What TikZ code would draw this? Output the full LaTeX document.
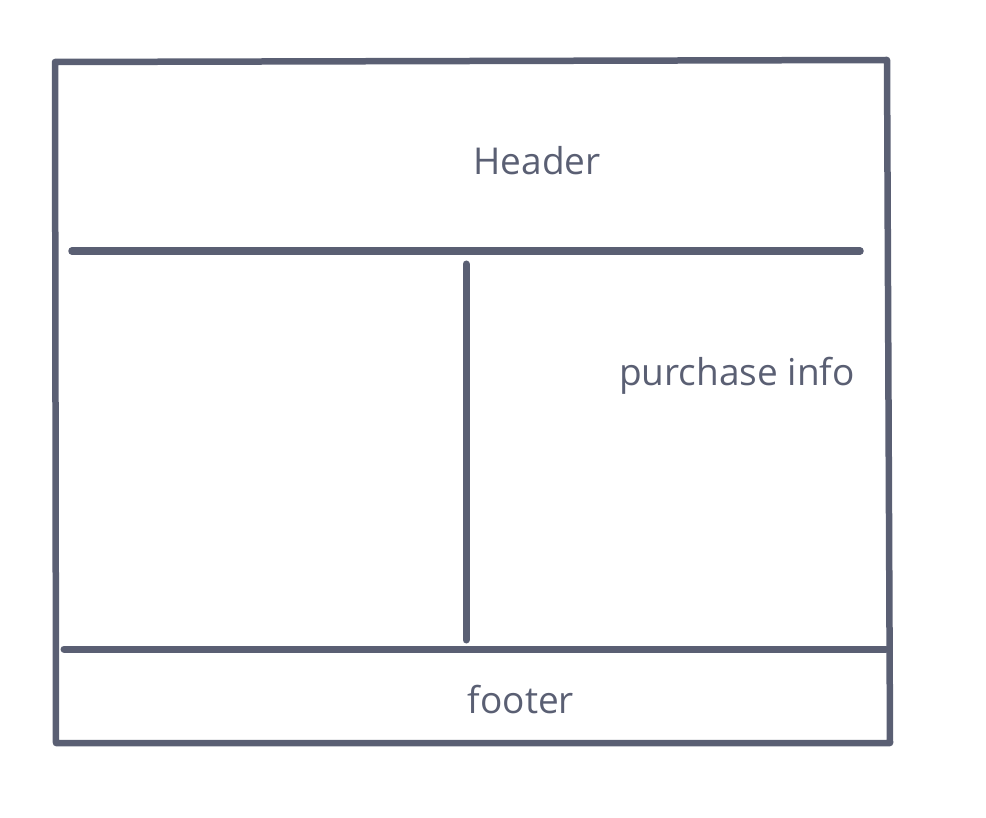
\documentclass[tikz,border=0pt]{standalone}
\usepackage{fontspec}
\setmainfont{Open Sans}
\definecolor{ink}{HTML}{5A5F73}
\begin{document}
\begin{tikzpicture}[x=1pt,y=-1pt,
  stroke/.style={draw=ink,line width=6.5pt,line cap=round,line join=round},
  label/.style={text=ink,font=\fontsize{37}{44}\selectfont,inner sep=0pt}]
\useasboundingbox (0,0) rectangle (986,818);
\coordinate (tl) at (55,62);
\coordinate (tr) at (887,60);
\coordinate (br) at (890,743);
\coordinate (bl) at (56,743);
\draw[stroke] (tl) -- (tr) -- (br) -- (bl) -- cycle;
\coordinate (h1) at (72,251);
\coordinate (h2) at (860,251);
\draw[stroke,line width=7.5pt] (h1) -- (h2);
\coordinate (v1) at (466,264);
\coordinate (v2) at (466,640);
\draw[stroke,line width=7pt] (v1) -- (v2);
\coordinate (f1) at (64,649);
\coordinate (f2) at (886,649);
\draw[stroke,line width=7pt] (f1) -- (f2);
\node[label] (header) at (537,161) {Header};
\node[label] (purchase) at (737,376) {purchase info};
\node[label] (footer) at (521,700) {footer};
\end{tikzpicture}
\end{document}
